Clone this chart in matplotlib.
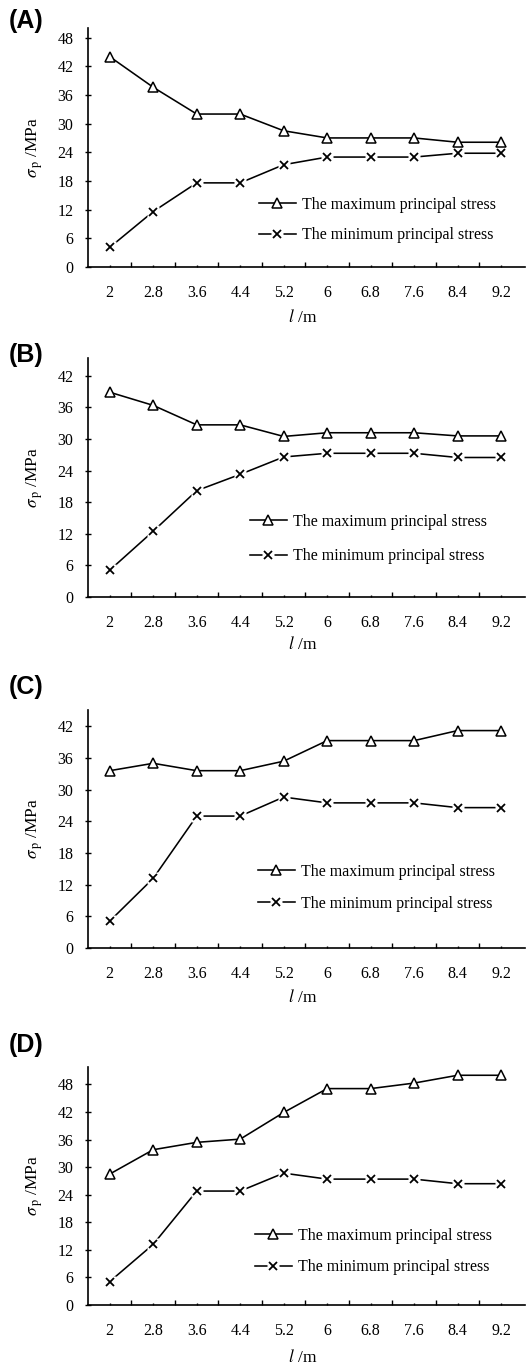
import numpy as np
import matplotlib
matplotlib.use('Agg')
from matplotlib import pyplot as plt
from matplotlib.legend_handler import HandlerTuple

plt.rcParams['font.family'] = ['Liberation Serif', 'DejaVu Serif']
plt.rcParams['mathtext.fontset'] = 'stix'

W, H = 527, 1367

lengths = ['2', '2.8', '3.6', '4.4', '5.2', '6', '6.8', '7.6', '8.4', '9.2']

max_a = [44.0, 37.6, 32.0, 32.0, 28.5, 27.0, 27.0, 27.0, 26.1, 26.1]
min_a = [4.1, 11.6, 17.6, 17.6, 21.4, 23.0, 23.0, 23.0, 23.8, 23.8]

max_b = [38.9, 36.4, 32.7, 32.7, 30.5, 31.2, 31.2, 31.2, 30.6, 30.6]
min_b = [5.1, 12.5, 20.2, 23.3, 26.6, 27.3, 27.3, 27.3, 26.5, 26.5]

max_c = [33.6, 35.0, 33.6, 33.6, 35.4, 39.3, 39.3, 39.3, 41.2, 41.2]
min_c = [5.1, 13.2, 25.0, 25.0, 28.6, 27.5, 27.5, 27.5, 26.6, 26.6]

max_d = [28.5, 33.8, 35.4, 36.1, 41.9, 47.1, 47.1, 48.3, 50.0, 50.0]
min_d = [5.1, 13.2, 24.8, 24.8, 28.7, 27.4, 27.4, 27.4, 26.4, 26.4]

panel_names = ['(A)', '(B)', '(C)', '(D)']
y_ticks = [[0, 6, 12, 18, 24, 30, 36, 42, 48],
           [0, 6, 12, 18, 24, 30, 36, 42],
           [0, 6, 12, 18, 24, 30, 36, 42],
           [0, 6, 12, 18, 24, 30, 36, 42, 48]]
y_tops = [50, 45.4, 45.1, 51.8]

# layout in pixels: (top, bottom, label_y, legend_left, legend_row1, legend_spacing, xlabel_y)
layout = [
    (28, 267, 21, 259, 206, 0.9, 318),
    (358, 597, 355, 250, 523, 1.15, 645),
    (710, 948, 687, 258, 873, 1.0, 997),
    (1067, 1305, 1045, 255, 1237, 0.95, 1358),
]
ax_left, ax_right = 88, 525

fig = plt.figure(figsize=(W / 100, H / 100), dpi=100)

series = [(max_a, min_a), (max_b, min_b), (max_c, min_c), (max_d, min_d)]
x = np.arange(len(lengths))

for i, (smax, smin) in enumerate(series):
    top, bottom, lab_y, leg_x, leg_y, leg_sp, xl_y = layout[i]
    axw = ax_right - ax_left
    axh = bottom - top
    ax = fig.add_axes([ax_left / W, 1 - bottom / H, axw / W, axh / H])

    l1, = ax.plot(x, smax, color='black', lw=1.15, marker='^', ms=7.5,
                  mfc='white', mec='black', mew=1.1, zorder=3)
    l2, = ax.plot(x, smin, color='black', lw=1.15, zorder=2)
    bg, = ax.plot(x, smin, ls='none', marker='s', ms=9, mfc='white',
                  mec='none', zorder=2.5)
    mk, = ax.plot(x, smin, ls='none', marker='x', ms=5.5, mec='black',
                  mew=1.3, zorder=2.6)

    ax.set_xlim(-0.5, 9.55)
    ax.set_ylim(0, y_tops[i])
    ax.spines['top'].set_visible(False)
    ax.spines['right'].set_visible(False)
    ax.spines['left'].set_linewidth(1.2)
    ax.spines['bottom'].set_linewidth(1.2)

    ax.set_xticks(x)
    ax.set_xticklabels(lengths)
    ax.set_xticks(np.arange(0.5, 9.0, 1.0), minor=True)
    ax.tick_params(axis='x', which='major', direction='in', length=1.5,
                   width=1.0, pad=13, labelsize=11.5, colors='black')
    ax.tick_params(axis='x', which='minor', direction='in', length=3.5,
                   width=1.0)
    ax.set_yticks(y_ticks[i])
    ax.tick_params(axis='y', which='major', direction='inout', length=5,
                   width=1.0, pad=8, labelsize=11.5)

    ax.set_ylabel(r'$\sigma_{\,\mathrm{p}}$ /MPa', fontsize=12.5)
    ax.yaxis.set_label_coords(-0.098, 0.5)
    ax.text((303 - ax_left) / axw, (bottom - xl_y) / axh, r'$l$ /m',
            transform=ax.transAxes, ha='center', va='center', fontsize=12.5)

    ax.legend([l1, (l2, bg, mk)],
              ['The maximum principal stress', 'The minimum principal stress'],
              handler_map={tuple: HandlerTuple(ndivide=1)},
              loc='upper left',
              bbox_to_anchor=((leg_x - ax_left) / axw, (bottom - leg_y + 9) / axh),
              frameon=False, borderpad=0, borderaxespad=0, fontsize=11.5,
              handlelength=2.3, handletextpad=0.4, labelspacing=leg_sp,
              numpoints=1)

    fig.text(9 / W, 1 - lab_y / H, panel_names[i], ha='left', va='center',
             fontsize=18, fontweight='bold', family='Liberation Sans')

fig.savefig('out.png', dpi=100)
